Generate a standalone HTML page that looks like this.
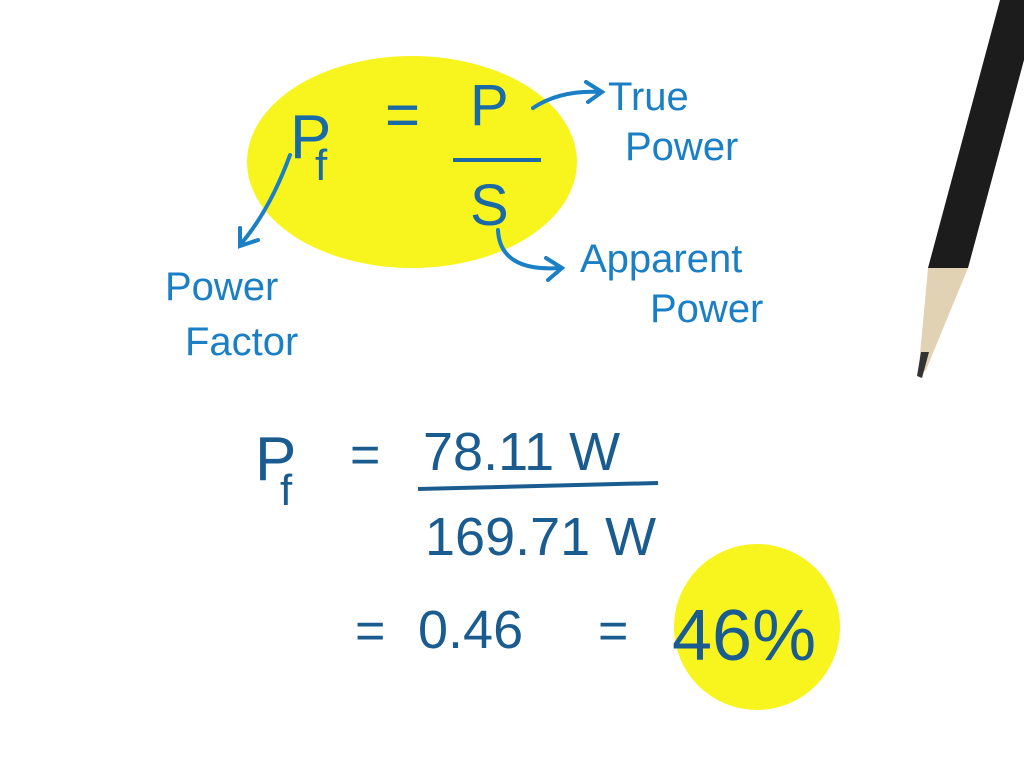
<!DOCTYPE html>
<html><head><style>
html,body{margin:0;padding:0;background:#fff;}
svg{display:block}
text{font-family:"Liberation Sans",sans-serif;}
</style></head><body>
<svg width="1024" height="765" viewBox="0 0 1024 765" xmlns="http://www.w3.org/2000/svg">
<rect width="1024" height="765" fill="#fff"/>
<ellipse cx="412" cy="162" rx="165" ry="106" fill="#f8f41e"/>
<circle cx="757" cy="627" r="83" fill="#f8f41e"/>
<polygon points="1000,0 1024,0 1024,60 968,268 928,268" fill="#1c1c1c"/>
<polygon points="928,268 968,268 926,370 918,376" fill="#e2d2b4"/>
<polygon points="921,352 929,352 922,378 917,376" fill="#333"/>
<g fill="#1a7fc4">
<text x="165" y="300" font-size="40">Power</text>
<text x="185" y="355" font-size="40">Factor</text>
<text x="608" y="110" font-size="40">True</text>
<text x="625" y="160" font-size="40">Power</text>
<text x="580" y="272" font-size="40">Apparent</text>
<text x="650" y="322" font-size="40">Power</text>
</g>
<g fill="none" stroke="#1a7fc4" stroke-width="4" stroke-linecap="round">
<path d="M290 155 Q270 210 240 245"/><path d="M240 228 L240 246 L258 240"/>
<path d="M533 108 Q560 90 600 92"/><path d="M586 82 L602 92 L588 102"/>
<path d="M498 230 Q500 272 560 268"/><path d="M546 258 L562 268 L548 280"/>
</g>
<g fill="#1a6aa8">
<text x="290" y="158" font-size="62">P</text>
<text x="315" y="180" font-size="44">f</text>
<text x="385" y="135" font-size="60">=</text>
<text x="470" y="125" font-size="58">P</text>
<text x="470" y="225" font-size="58">S</text>
</g>
<line x1="453" y1="160" x2="541" y2="160" stroke="#1a6aa8" stroke-width="4"/>
<g fill="#1b5c90">
<text x="255" y="480" font-size="62">P</text>
<text x="280" y="505" font-size="44">f</text>
<text x="350" y="472" font-size="52">=</text>
<text x="423" y="470" font-size="54">78.11 W</text>
<text x="425" y="555" font-size="54">169.71 W</text>
<text x="355" y="648" font-size="52">=</text>
<text x="418" y="648" font-size="54">0.46</text>
<text x="598" y="648" font-size="52">=</text>
<text x="672" y="660" font-size="72">46%</text>
</g>
<line x1="418" y1="489" x2="658" y2="483" stroke="#1b5c90" stroke-width="4"/>
</svg>
</body></html>
